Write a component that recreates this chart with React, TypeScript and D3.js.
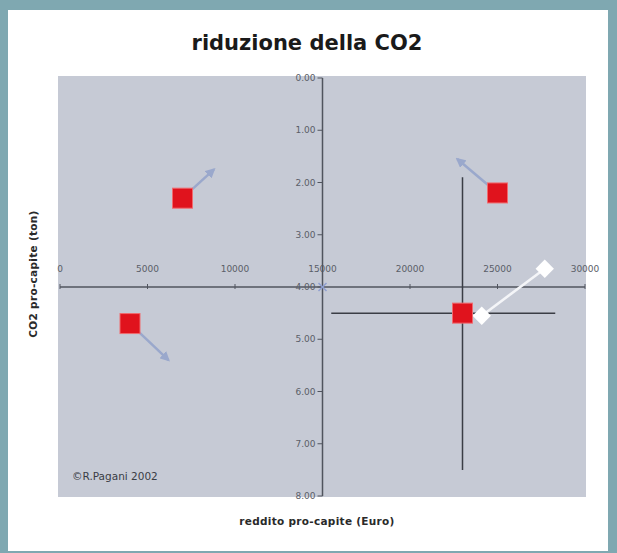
import React from "react";
import * as d3 from "d3";

const xTicks = [0, 5000, 10000, 15000, 20000, 25000, 30000];
const yTicks = [0, 1, 2, 3, 4, 5, 6, 7, 8];

const squareX = [7000, 4000, 25000, 23000];
const squareY = [2.3, 4.7, 2.2, 4.5];

const arrowFromX = [7000, 4000, 25000];
const arrowFromY = [2.3, 4.7, 2.2];
const arrowToX = [8800, 6200, 22700];
const arrowToY = [1.75, 5.4, 1.55];

const diamondX = [24100, 27700];
const diamondY = [4.55, 3.65];

const crossX = 23000;
const crossY = 4.5;
const crossVY = [1.9, 7.5];
const crossHX = [15500, 28300];

export default function App() {
  const W = 617, H = 553;
  const x = d3.scaleLinear().domain([0, 30000]).range([60, 585]);
  const y = d3.scaleLinear().domain([0, 8]).range([78, 496]);
  const axisColor = "#50545e";
  const font = "'DejaVu Sans', Verdana, sans-serif";
  const x0 = x(15000);
  const y0 = y(4);

  return (
    <svg width={W} height={H} style={{ position: "absolute", left: 0, top: 0 }} fontFamily={font}>
      <defs>
        <marker id="ah" viewBox="0 0 10 10" refX="8" refY="5" markerWidth="4" markerHeight="4" orient="auto">
          <path d="M0,0 L10,5 L0,10 z" fill="#9aa8cc" />
        </marker>
      </defs>
      <rect x={0} y={0} width={W} height={H} fill="#7fa8b1" />
      <rect x={8} y={10} width={600} height={541} fill="#ffffff" />
      <text x={307} y={50} textAnchor="middle" fontSize={21} fontWeight="bold" fill="#1a1a1a">
        riduzione della CO2
      </text>
      <rect x={58} y={76} width={528} height={421} fill="#c6cad5" />

      {/* x axis */}
      <line x1={x(0)} x2={x(30000)} y1={y0} y2={y0} stroke={axisColor} strokeWidth={1.5} />
      {xTicks.map((t) => (
        <g key={"xt" + t}>
          <line x1={x(t)} x2={x(t)} y1={y0 - 3} y2={y0 + 2} stroke={axisColor} strokeWidth={1} />
          <text x={x(t)} y={y0 - 15} textAnchor="middle" fontSize={9} fill="#5a5e68">
            {t}
          </text>
        </g>
      ))}

      {/* y axis */}
      <line x1={x0} x2={x0} y1={y(0)} y2={y(8)} stroke={axisColor} strokeWidth={1.5} />
      {yTicks.map((t) => (
        <g key={"yt" + t}>
          <line x1={x0 - 5} x2={x0} y1={y(t)} y2={y(t)} stroke={axisColor} strokeWidth={1} />
          <text x={x0 - 7} y={y(t) + 3} textAnchor="end" fontSize={9} fill="#5a5e68">
            {t.toFixed(2)}
          </text>
        </g>
      ))}
      <path
        d={`M${x0 - 4},${y0 - 4}L${x0 + 4},${y0 + 4}M${x0 - 4},${y0 + 4}L${x0 + 4},${y0 - 4}`}
        stroke="#8f9fd0"
        strokeWidth={1.5}
      />

      {/* crosshair */}
      <line x1={x(crossX)} x2={x(crossX)} y1={y(crossVY[0])} y2={y(crossVY[1])} stroke="#3a3d45" strokeWidth={1.5} />
      <line x1={x(crossHX[0])} x2={x(crossHX[1])} y1={y(crossY)} y2={y(crossY)} stroke="#3a3d45" strokeWidth={1.5} />

      {/* arrows */}
      {arrowFromX.map((fx, i) => (
        <line
          key={"ar" + i}
          x1={x(fx)}
          y1={y(arrowFromY[i])}
          x2={x(arrowToX[i])}
          y2={y(arrowToY[i])}
          stroke="#9aa8cc"
          strokeWidth={2.5}
          markerEnd="url(#ah)"
        />
      ))}

      {/* white diamonds */}
      <line x1={x(diamondX[0])} y1={y(diamondY[0])} x2={x(diamondX[1])} y2={y(diamondY[1])} stroke="#f4f5f8" strokeWidth={2.5} />
      {diamondX.map((dx, i) => (
        <rect
          key={"dm" + i}
          x={-6.5}
          y={-6.5}
          width={13}
          height={13}
          fill="#ffffff"
          transform={`translate(${x(dx)},${y(diamondY[i])}) rotate(45)`}
        />
      ))}

      {/* red squares */}
      {squareX.map((sx, i) => (
        <rect
          key={"sq" + i}
          x={x(sx) - 10}
          y={y(squareY[i]) - 10}
          width={20}
          height={20}
          fill="#e0131d"
          stroke="#f06a6e"
          strokeWidth={1}
        />
      ))}

      <text x={72} y={480} fontSize={10.5} fill="#3a3d45">©R.Pagani 2002</text>

      <text x={317} y={525} textAnchor="middle" fontSize={10.5} fontWeight="bold" fill="#2a2a2a" letterSpacing={0.3}>
        reddito pro-capite (Euro)
      </text>
      <text
        transform={`translate(37,274) rotate(-90)`}
        textAnchor="middle"
        fontSize={10.5}
        fontWeight="bold"
        fill="#2a2a2a"
        letterSpacing={0.3}
      >
        CO2 pro-capite (ton)
      </text>
    </svg>
  );
}
